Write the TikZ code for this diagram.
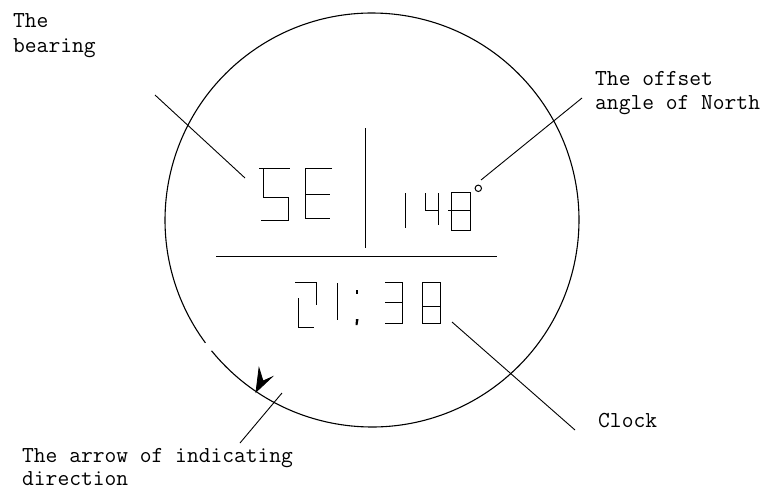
\documentclass[tikz,border=0pt]{standalone}
\usepackage{fontspec}
\begin{document}
\begin{tikzpicture}[x=1pt,y=-1pt,
  lbl/.style={anchor=base west,inner sep=0pt,font=\fontsize{22.86}{24}\selectfont\ttfamily\addfontfeatures{FakeBold=1.2}},
  seg/.style={line width=1pt},
  leader/.style={line width=0.9pt},
  rim/.style={line width=1.1pt}]
\useasboundingbox (0,0) rectangle (766,490);
% dial
\coordinate (c) at (372,220);
\draw[rim] (c) ++(219.2:207pt) arc[start angle=219.2, end angle=576.4, radius=207pt];
% dividers
\draw[seg] (216,256) -- (497,256);
\draw[seg] (365,128) -- (365,248);
% "SE"
\draw[seg] (259,168) -- (290,168) (263,168) -- (263,197) -- (288,197) -- (288,220) -- (261,220);
\draw[seg] (332,168) -- (305,168) -- (305,218) -- (330,218) (305,194) -- (330,194);
% "148"
\draw[seg] (405,193) -- (405,228);
\draw[seg] (425,193) -- (425,210) -- (438,210) (438,193) -- (438,225);
\draw[seg] (451,192) rectangle (470,230) (448,210) -- (470,210);
\draw[seg] (478.3,188.3) circle[radius=3.2pt];
% "21:38"
\draw[seg] (295,282) -- (316,282) -- (316,305) (298,298) -- (298,327) -- (314,327);
\draw[seg] (337,283) -- (337,320);
\fill (355.5,289.5) rectangle (358,294);
\fill (356,319) -- (358.5,319) -- (357.5,325) -- (355.5,325) -- cycle;
\draw[seg] (385,282) -- (402,282) -- (402,323) -- (385,323) (385,302) -- (402,302);
\draw[seg] (422,282) rectangle (440,323) (422,306) -- (440,306);
% arrow mark on the rim
\draw[line width=0.8pt,fill=black] (256,392) -- (259,368) -- (263,381) -- (272,377) -- cycle;
% labels
\node[lbl] (bear1) at (13,27) {The};
\node[lbl] (bear2) at (13,52) {bearing};
\node[lbl] (north1) at (595,85) {The offset};
\node[lbl] (north2) at (595,109) {angle of North};
\node[lbl] (clock) at (598,427) {Clock};
\node[lbl] (arrow1) at (22,462) {The arrow of indicating};
\node[lbl] (arrow2) at (22,485) {direction};
% leader lines
\coordinate (b1) at (155,95);  \coordinate (b2) at (245,178);
\coordinate (n1) at (481,180); \coordinate (n2) at (582,98);
\coordinate (k1) at (452,322); \coordinate (k2) at (575,430);
\coordinate (a1) at (282,393); \coordinate (a2) at (240,443);
\draw[leader] (b1) -- (b2);
\draw[leader] (n1) -- (n2);
\draw[leader] (k1) -- (k2);
\draw[leader] (a1) -- (a2);
\end{tikzpicture}
\end{document}
